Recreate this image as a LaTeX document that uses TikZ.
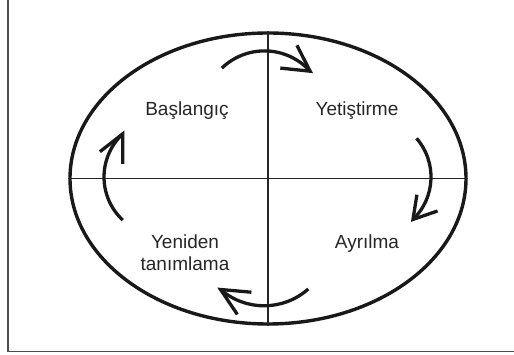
\documentclass[tikz,border=0pt]{standalone}
\usepackage{fontspec}
\setmainfont{Liberation Sans}
\usetikzlibrary{shapes.geometric,calc}
\begin{document}
\begin{tikzpicture}[x=1pt,y=1pt,
  lbl/.style={font=\fontsize{19}{22}\selectfont, inner sep=0pt, align=center, text=black!85},
  cyc/.style={line width=3.3pt, black!90},
  barb/.style={line width=3.3pt, black!90, line join=miter},
  cross/.style={line width=1.4pt, black!85},
  framel/.style={line width=1.1pt, black!70}]
\useasboundingbox (0,0) rectangle (514,355);
% frame
\coordinate (ftl) at (8,356);
\coordinate (fbl) at (8,3.5);
\coordinate (fbr) at (515,3.5);
\draw[framel] (ftl) -- (fbl) -- (fbr);
% ellipse
\node[ellipse, draw, line width=3.4pt, black!90, minimum width=396pt, minimum height=291pt, inner sep=0pt] (E) at (268,176.5) {};
\draw[cross] (E.west) -- (E.east);
\draw[cross] (E.north) -- (E.south);
% labels
\node[lbl, anchor=base] (b) at (187,239) {Başlangıç};
\node[lbl, anchor=base] (y) at (357,239) {Yetiştirme};
\node[lbl, anchor=base] (a) at (367,106) {Ayrılma};
\node[lbl] (r) at (185,102) {Yeniden\\tanımlama};
% cycle arrows: arc centres
\coordinate (ct) at (264.5,242.7);
\coordinate (cr) at (372,178);
\coordinate (cb) at (264.1,115.6);
\coordinate (cl) at (163,178);
% arcs ending at the tips
\draw[cyc] ($(ct)+(134:61.4)$) arc[start angle=134, end angle=42, radius=61.4] coordinate (t1);
\draw[cyc] ($(cr)+(41:59)$) arc[start angle=41, end angle=-46, radius=59] coordinate (t2);
\draw[cyc] ($(cb)+(-48.3:66.4)$) arc[start angle=-48.3, end angle=-131, radius=66.4] coordinate (t3);
\draw[cyc] ($(cl)+(227:59)$) arc[start angle=227, end angle=133, radius=59] coordinate (t4);
% open arrowheads
\draw[barb] ($(t1)+(117:29)$) -- (t1) -- ($(t1)+(174:30)$);
\draw[barb] ($(t2)+(81:25)$) -- (t2) -- ($(t2)+(19:26)$);
\draw[barb] ($(t3)+(-5:31)$) -- (t3) -- ($(t3)+(-56:30)$);
\draw[barb] ($(t4)+(218:29)$) -- (t4) -- ($(t4)+(270:30)$);
\end{tikzpicture}
\end{document}
